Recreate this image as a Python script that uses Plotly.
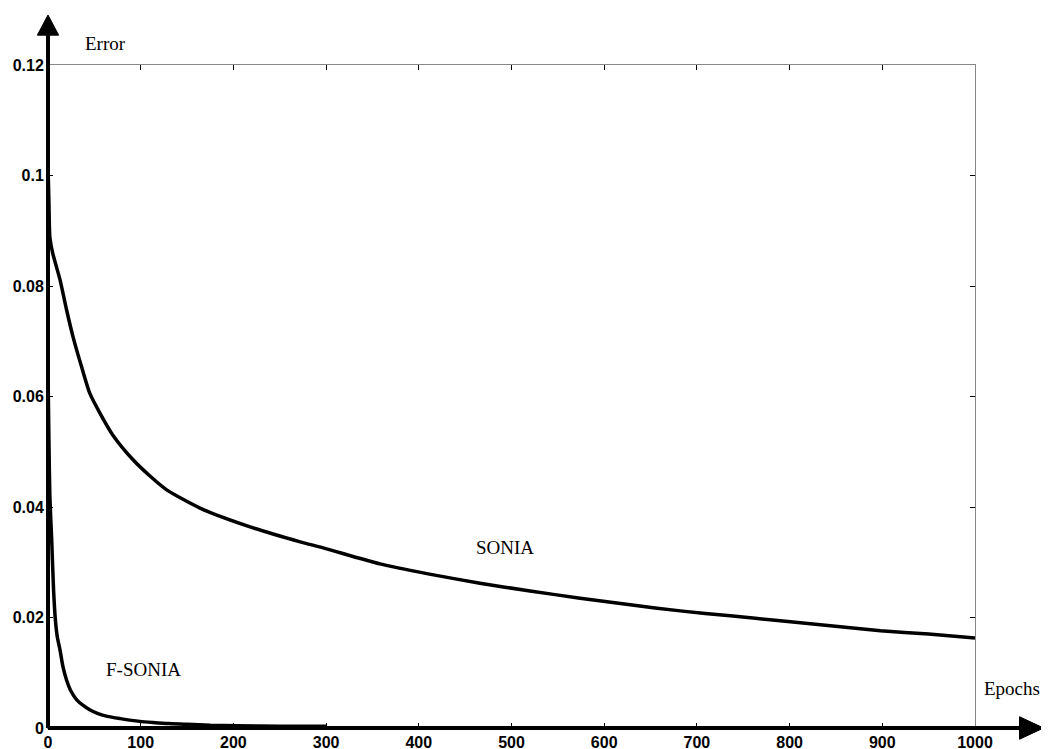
import plotly.graph_objects as go

# ---- data ----
sonia_epochs = [0, 1, 2, 5, 13, 20, 27, 36, 45, 56, 70, 92, 110, 128, 164, 218, 272, 297, 358,
                410, 466, 520, 574, 628, 682, 736, 790, 844, 898, 950, 1000]
sonia_error = [0.102, 0.095, 0.0889, 0.086, 0.0811, 0.0757, 0.0708, 0.0655, 0.0606, 0.0570,
               0.0530, 0.0485, 0.0456, 0.0431, 0.0398, 0.0364, 0.0337, 0.0326, 0.0297,
               0.0279, 0.0262, 0.0248, 0.0235, 0.0223, 0.0212, 0.0203, 0.0194, 0.0185,
               0.0176, 0.0170, 0.0163]

fsonia_epochs = [0, 1, 2, 4, 6, 8, 10, 13, 16, 20, 25, 31, 38, 45, 54, 64, 78, 99, 113, 130,
                 150, 175, 204, 250, 300]
fsonia_error = [0.065, 0.052, 0.042, 0.034, 0.025, 0.0195, 0.0165, 0.0141, 0.0112, 0.0087,
                0.0066, 0.0051, 0.0041, 0.0033, 0.0026, 0.0021, 0.0017, 0.0012, 0.0010,
                0.0008, 0.0007, 0.0005, 0.0004, 0.0003, 0.0003]

x_ticks = [0, 100, 200, 300, 400, 500, 600, 700, 800, 900, 1000]
y_ticks = [0, 0.02, 0.04, 0.06, 0.08, 0.1, 0.12]
y_tick_labels = ["0", "0.02", "0.04", "0.06", "0.08", "0.1", "0.12"]

fig = go.Figure()
fig.add_trace(go.Scatter(x=sonia_epochs, y=sonia_error, mode="lines", name="SONIA",
                         line=dict(color="black", width=3.5, shape="spline", smoothing=0.6),
                         showlegend=False))
fig.add_trace(go.Scatter(x=fsonia_epochs, y=fsonia_error, mode="lines", name="F-SONIA",
                         line=dict(color="black", width=3.5, shape="spline", smoothing=0.6),
                         showlegend=False))

tickfont = dict(family="Liberation Sans, Arial", size=16, color="black", weight="bold")
fig.update_xaxes(range=[0, 1000], tickvals=x_ticks, ticks="inside", ticklen=5, tickcolor="black",
                 showline=True, linewidth=1, linecolor="#888", mirror="ticks",
                 showgrid=False, zeroline=False, tickfont=tickfont)
fig.update_yaxes(range=[0, 0.12], tickvals=y_ticks, ticktext=y_tick_labels, ticks="inside",
                 ticklen=5, tickcolor="black", showline=True, linewidth=1, linecolor="#888",
                 mirror="ticks", showgrid=False, zeroline=False, tickfont=tickfont)

shapes = [
    # thick black axes
    dict(type="line", xref="paper", yref="paper", x0=0, y0=0, x1=1.055, y1=0,
         line=dict(color="black", width=4)),
    dict(type="line", xref="paper", yref="paper", x0=0, y0=0, x1=0, y1=1.05,
         line=dict(color="black", width=4)),
    # arrow heads
    dict(type="path", xref="paper", yref="paper",
         path="M 1.048 0.017 L 1.074 0 L 1.048 -0.017 Z",
         fillcolor="black", line=dict(color="black", width=1)),
    dict(type="path", xref="paper", yref="paper",
         path="M -0.0115 1.045 L 0 1.0754 L 0.0115 1.045 Z",
         fillcolor="black", line=dict(color="black", width=1)),
]

serif = dict(family="Liberation Serif, Times New Roman", size=19, color="black")
common = dict(xref="paper", yref="paper", showarrow=False, font=serif,
              xanchor="center", yanchor="middle")
annotations = [
    dict(text="Error", x=0.0615, y=1.033, **common),
    dict(text="Epochs", x=1.040, y=0.060, **common),
    dict(text="SONIA", x=0.493, y=0.2715, **common),
    dict(text="F-SONIA", x=0.1025, y=0.0875, **common),
]

fig.update_layout(width=1049, height=741,
                  margin=dict(l=40, r=82, t=57, b=21, autoexpand=False),
                  paper_bgcolor="white", plot_bgcolor="white",
                  shapes=shapes, annotations=annotations)

fig.write_html("out.html")
